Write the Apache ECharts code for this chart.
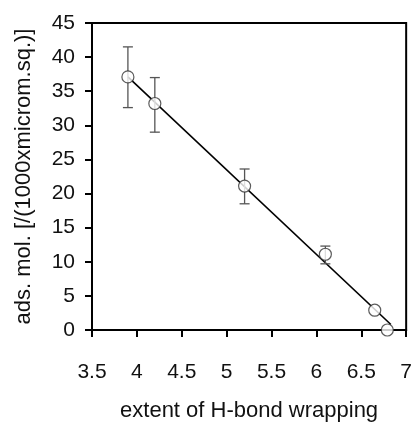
<!DOCTYPE html>
<html>
<head>
<meta charset="utf-8">
<script src="https://cdn.jsdelivr.net/npm/echarts@6/dist/echarts.min.js"></script>
<style>
  html, body { margin: 0; padding: 0; background: #fff; }
  #chart { width: 415px; height: 428px; }
</style>
</head>
<body>
<div id="chart"></div>
<script>
// measured points (x = H-bond wrapping, y = adsorbed molecules)
const xVals = [3.9, 4.2, 5.2, 6.1, 6.65, 6.79];
const yVals = [37.1, 33.2, 21.1, 11.1, 2.9, 0];
const errLow = [32.6, 29.0, 18.5, 9.7, 2.9, 0];
const errHigh = [41.5, 37.0, 23.6, 12.3, 2.9, 0];

// fitted line end points
const fitX = [3.9, 6.83];
const fitY = [37.1, 0.8];

const font = 'Liberation Sans, Arial, sans-serif';

const chart = echarts.init(document.getElementById('chart'), null, { renderer: 'canvas' });

const points = xVals.map((x, i) => [x, yVals[i]]);
const bars = xVals.map((x, i) => [x, errLow[i], errHigh[i]]);
const fit = fitX.map((x, i) => [x, fitY[i]]);

chart.setOption({
  animation: false,
  grid: {
    left: 92, right: 6, top: 23, bottom: 98,
    show: true, borderColor: '#000', borderWidth: 2, backgroundColor: 'transparent'
  },
  xAxis: {
    type: 'value', min: 3.5, max: 7, interval: 0.5,
    name: 'extent of H-bond wrapping', nameLocation: 'middle', nameGap: 70,
    nameTextStyle: { fontFamily: font, fontSize: 22, color: '#111' },
    axisLine: { lineStyle: { color: '#000', width: 2 } },
    axisTick: { show: true, length: 7, lineStyle: { color: '#000', width: 2 } },
    axisLabel: { fontFamily: font, fontSize: 21, color: '#111', margin: 32 },
    splitLine: { show: false }
  },
  yAxis: {
    type: 'value', min: 0, max: 45, interval: 5,
    name: 'ads. mol. [/(1000xmicrom.sq.)]', nameLocation: 'middle', nameGap: 57,
    nameTextStyle: { fontFamily: font, fontSize: 22, color: '#111' },
    axisLine: { show: true, lineStyle: { color: '#000', width: 2 } },
    axisTick: { show: true, length: 7, lineStyle: { color: '#000', width: 2 } },
    axisLabel: { fontFamily: font, fontSize: 21, color: '#111', margin: 17 },
    splitLine: { show: false }
  },
  series: [
    {
      type: 'line', data: fit, symbol: 'none', z: 2,
      lineStyle: { color: '#000', width: 1.6 }
    },
    {
      type: 'custom', z: 3,
      data: bars,
      renderItem: function (params, api) {
        const x = api.value(0);
        const lo = api.coord([x, api.value(1)]);
        const hi = api.coord([x, api.value(2)]);
        if (Math.abs(hi[1] - lo[1]) < 1) return null;
        const w = 5;
        const style = { stroke: '#555', lineWidth: 1.3 };
        return {
          type: 'group',
          children: [
            { type: 'line', shape: { x1: lo[0], y1: lo[1], x2: hi[0], y2: hi[1] }, style },
            { type: 'line', shape: { x1: hi[0] - w, y1: hi[1], x2: hi[0] + w, y2: hi[1] }, style },
            { type: 'line', shape: { x1: lo[0] - w, y1: lo[1], x2: lo[0] + w, y2: lo[1] }, style }
          ]
        };
      }
    },
    {
      type: 'scatter', data: points, symbol: 'circle', symbolSize: 12, z: 4,
      itemStyle: { color: '#fff', borderColor: '#333', borderWidth: 1.2 }
    }
  ]
});
</script>
</body>
</html>
